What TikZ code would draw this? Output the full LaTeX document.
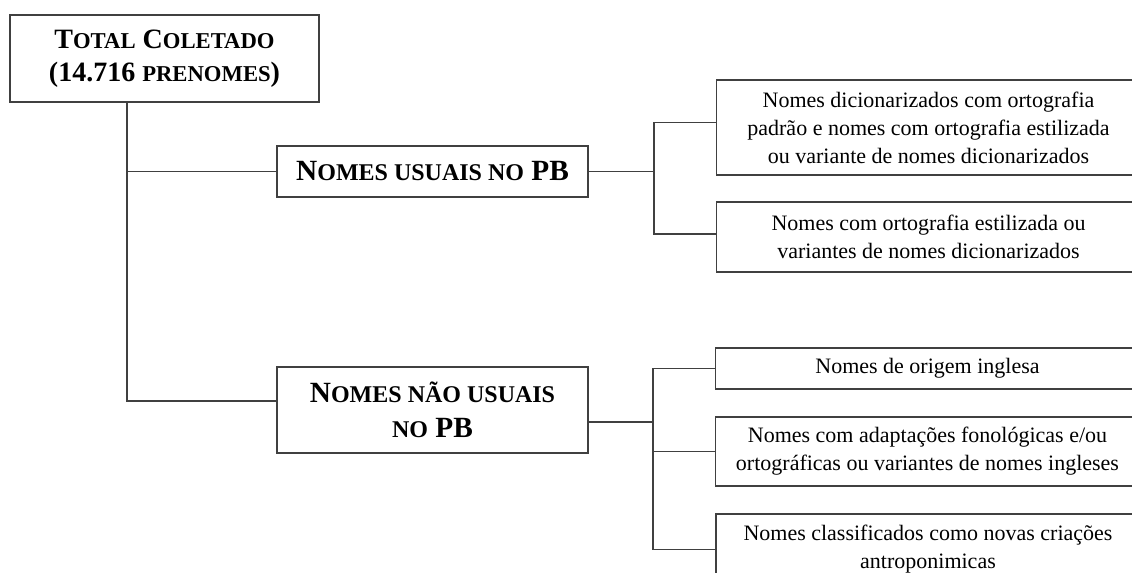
\documentclass[tikz,border=0pt]{standalone}
\usepackage{fontspec}
\setmainfont{Liberation Serif}
\usepackage{tikz}
\usetikzlibrary{calc}
\def\petit#1{{\fontsize{17}{25}\selectfont #1}}
\def\petitb#1{{\fontsize{18}{26}\selectfont #1}}
\tikzset{
	caixa/.style={draw=black!75, line width=0.9pt, rectangle, inner sep=0pt, align=center},
	titulo/.style={caixa, font=\fontsize{21}{25}\selectfont\bfseries},
	ramo/.style={caixa, minimum width=233.25pt, font=\fontsize{22}{26}\selectfont\bfseries},
	folha/.style={caixa, minimum width=318pt, font=\fontsize{16.5}{21}\selectfont},
	link/.style={draw=black!75, line width=0.9pt}
}

\begin{document}
\begin{tikzpicture}[x=0.75pt, y=-0.75pt]
			%%%%% START %%%%%
			\useasboundingbox (0, 0) rectangle (1132, 573);
			
			\node[titulo, minimum width=231.75pt, minimum height=65.25pt] (total) at (164.5, 58.5) {T\petit{OTAL} C\petit{OLETADO}\\(14.716 \petit{PRENOMES})};
			
			\node[ramo, minimum height=38.25pt] (usual) at (432.5, 171.5) {N\petitb{OMES\ USUAIS\ NO}\ PB};
			\node[ramo, minimum height=64.5pt] (naousual) at (432.5, 410) {N\petitb{OMES\ NÃO\ USUAIS}\\\petitb{NO}\ PB};
			
			\node[folha, minimum height=71.25pt] (dicA) at (928.5, 127.5) {Nomes dicionarizados com ortografia\\padrão e nomes com ortografia estilizada\\ou variante de nomes dicionarizados};
			\node[folha, minimum height=52.5pt] (estB) at (928.5, 237) {Nomes com ortografia estilizada ou\\variantes de nomes dicionarizados};
			
			\node[folha, minimum height=30.75pt] (ingC) at (927.5, 368.5) {Nomes de origem inglesa};
			\node[folha, minimum height=51.75pt] (adaptD) at (927.5, 451.5) {Nomes com adaptações fonológicas e/ou\\ortográficas ou variantes de nomes ingleses};
			\node[folha, minimum height=53.25pt] (criaE) at (928, 549.5) {Nomes classificados como novas criações\\antroponimicas};
			
			\coordinate (tronco) at (127, 401);
			\coordinate (garfo1) at (654, 175);
			\coordinate (garfo2) at (653, 422);
			
			\draw[link] (total.south -| tronco) -- (tronco) -- (tronco -| naousual.west);
			\draw[link] (tronco |- usual.west) -- (usual.west);
			
			\draw[link] (usual.east) -- (usual.east -| garfo1);
			\draw[link] ($(dicA.west)+(0,-5)$) -| (garfo1) |- ($(estB.west)+(0,-3)$);
			
			\draw[link] (naousual.east |- garfo2) -- (garfo2);
			\draw[link] (ingC.west) -| (garfo2) |- (criaE.west);
			\draw[link] (garfo2 |- adaptD.west) -- (adaptD.west);
			
			%%%%% END %%%%%
		\end{tikzpicture}
\end{document}
